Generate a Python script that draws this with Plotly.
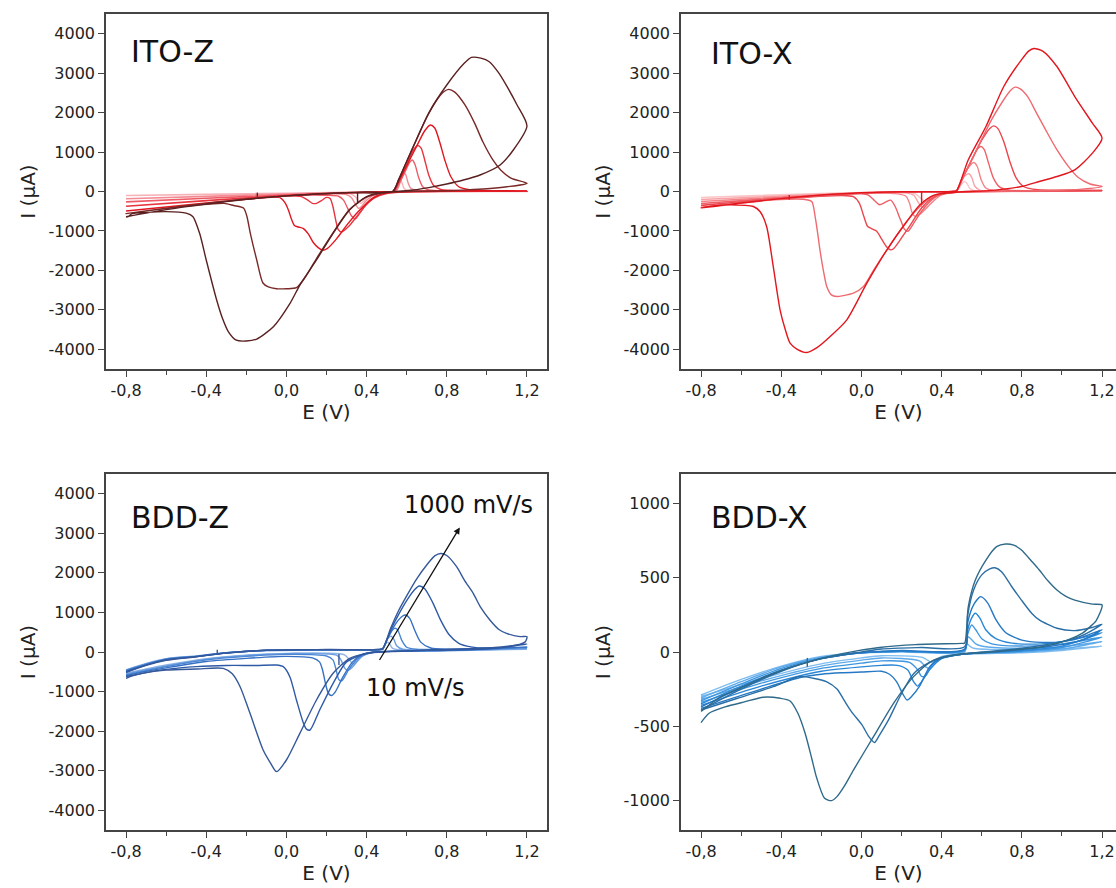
import plotly.graph_objects as go

# ---------------- ITO-Z (E in V, I in uA), slow -> fast scan ----------------
IZ1 = [(-0.8,-100),(-0.4,-70),(0.0,-40),(0.3,-20),(0.5,-5),(0.545,0),(0.555,120),(0.562,250),(0.568,290),(0.575,240),(0.585,100),(0.6,25),(0.7,5),(0.95,2),(1.2,0),
       (0.95,-1),(0.7,-2),(0.55,-8),(0.46,-40),(0.41,-120),(0.385,-250),(0.372,-300),(0.36,-260),(0.345,-140),(0.32,-60),(0.25,-40),(0.0,-45),(-0.4,-75),(-0.8,-105)]
IZ2 = [(-0.8,-180),(-0.4,-120),(0.0,-60),(0.3,-25),(0.5,-8),(0.545,0),(0.56,120),(0.572,320),(0.585,470),(0.595,430),(0.607,220),(0.62,80),(0.65,25),(0.8,10),(1.0,7),(1.2,5),
       (1.0,2),(0.8,0),(0.6,-5),(0.5,-25),(0.44,-80),(0.4,-220),(0.375,-380),(0.36,-430),(0.345,-330),(0.325,-160),(0.3,-80),(0.2,-60),(0.0,-70),(-0.4,-125),(-0.8,-185)]
IZ3 = [(-0.8,-260),(-0.4,-170),(0.0,-85),(0.3,-30),(0.5,-8),(0.54,0),(0.56,180),(0.59,480),(0.615,740),(0.628,798),(0.642,680),(0.66,350),(0.68,120),(0.71,40),(0.8,15),(1.0,12),(1.2,10),
       (1.0,6),(0.8,5),(0.6,-5),(0.5,-40),(0.44,-130),(0.4,-300),(0.37,-520),(0.345,-690),(0.325,-620),(0.305,-420),(0.285,-220),(0.26,-120),(0.2,-95),(0.0,-100),(-0.4,-175),(-0.8,-265)]
IZ4 = [(-0.8,-370),(-0.4,-230),(0.0,-100),(0.3,-35),(0.5,-8),(0.535,0),(0.56,250),(0.6,680),(0.635,1060),(0.655,1165),(0.672,1100),(0.69,800),(0.71,420),(0.735,150),(0.77,50),(0.9,20),(1.05,15),(1.2,10),
       (1.05,7),(0.9,5),(0.6,-5),(0.5,-50),(0.44,-160),(0.4,-330),(0.35,-640),(0.31,-890),(0.275,-1030),(0.258,-960),(0.245,-700),(0.232,-380),(0.218,-180),(0.2,-150),(0.175,-230),(0.15,-300),(0.13,-300),(0.105,-210),(0.075,-130),(0.0,-110),(-0.4,-235),(-0.8,-375)]
IZ5 = [(-0.8,-490),(-0.4,-290),(0.0,-110),(0.3,-35),(0.5,-8),(0.53,0),(0.56,250),(0.6,650),(0.65,1150),(0.69,1540),(0.718,1686),(0.74,1610),(0.765,1250),(0.79,800),(0.82,380),(0.86,120),(0.92,40),(1.05,20),(1.2,15),
       (1.05,12),(0.9,10),(0.65,0),(0.53,-10),(0.44,-140),(0.36,-500),(0.3,-860),(0.25,-1200),(0.205,-1440),(0.18,-1490),(0.16,-1430),(0.135,-1300),(0.11,-1080),(0.085,-940),(0.06,-900),(0.04,-860),(0.025,-700),(0.012,-500),(-0.005,-300),(-0.035,-150),(-0.2,-200),(-0.4,-295),(-0.8,-495)]
IZ6 = [(-0.8,-560),(-0.6,-420),(-0.4,-300),(-0.2,-190),(0.0,-110),(0.3,-30),(0.53,0),(0.56,300),(0.6,760),(0.65,1330),(0.7,1880),(0.75,2320),(0.785,2530),(0.81,2590),(0.84,2520),(0.89,2200),(0.94,1720),(0.98,1260),(1.03,800),(1.07,540),(1.12,340),(1.2,207),
       (1.1,120),(1.0,70),(0.9,40),(0.8,20),(0.65,5),(0.55,-10),(0.48,-40),(0.4,-140),(0.316,-450),(0.233,-1040),(0.15,-1700),(0.09,-2200),(0.05,-2440),(0.0,-2465),(-0.05,-2465),(-0.09,-2420),(-0.117,-2320),(-0.148,-1736),(-0.18,-1060),(-0.197,-634),(-0.213,-422),(-0.263,-355),(-0.31,-300),(-0.45,-345),(-0.6,-430),(-0.8,-560)]
IZ7 = [(-0.8,-640),(-0.6,-460),(-0.4,-320),(-0.2,-200),(0.0,-110),(0.2,-50),(0.4,-10),(0.53,0),(0.56,300),(0.6,760),(0.65,1330),(0.71,1990),(0.8,2700),(0.887,3250),(0.923,3400),(0.97,3380),(1.012,3290),(1.06,3000),(1.101,2657),(1.15,2200),(1.2,1660),
       (1.132,1052),(1.066,672),(0.966,418),(0.883,291),(0.8,190),(0.717,105),(0.634,38),(0.55,0),(0.483,-15),(0.4,-127),(0.316,-465),(0.233,-1060),(0.15,-1736),(0.068,-2365),(0.018,-2834),(-0.065,-3427),(-0.148,-3740),(-0.2,-3790),(-0.25,-3770),(-0.29,-3550),(-0.32,-3200),(-0.348,-2750),(-0.4,-1736),(-0.433,-1060),(-0.467,-634),(-0.5,-550),(-0.6,-511),(-0.7,-530),(-0.77,-560),(-0.79,-640),(-0.8,-650)]
IZ_COLORS = ['#f7b2b8', '#f38b94', '#ee5a66', '#e8343e', '#e0161f', '#7a2828', '#5a2020']

# ---------------- ITO-X ----------------
IX1 = [(-0.8,-150),(-0.4,-80),(0.0,-25),(0.3,-3),(0.46,0),(0.475,5),(0.49,110),(0.505,220),(0.515,250),(0.527,200),(0.54,80),(0.56,20),(0.7,5),(0.95,5),(1.2,5),
       (0.95,2),(0.7,0),(0.5,-5),(0.42,-30),(0.37,-100),(0.335,-210),(0.315,-250),(0.295,-170),(0.27,-60),(0.22,-25),(0.0,-30),(-0.4,-85),(-0.8,-155)]
IX2 = [(-0.8,-200),(-0.4,-110),(0.0,-30),(0.3,-3),(0.46,0),(0.475,10),(0.49,160),(0.515,390),(0.535,450),(0.55,360),(0.565,140),(0.59,35),(0.7,10),(0.95,10),(1.2,10),
       (0.95,5),(0.7,2),(0.5,-8),(0.42,-40),(0.37,-130),(0.33,-310),(0.305,-400),(0.285,-290),(0.262,-100),(0.22,-35),(0.0,-35),(-0.4,-115),(-0.8,-205)]
IX3 = [(-0.8,-250),(-0.4,-140),(0.0,-35),(0.3,-3),(0.46,0),(0.475,15),(0.5,280),(0.53,580),(0.56,735),(0.577,640),(0.597,300),(0.62,90),(0.66,30),(0.8,15),(1.0,15),(1.2,15),
       (1.0,8),(0.8,5),(0.55,-5),(0.45,-30),(0.39,-110),(0.33,-390),(0.29,-580),(0.268,-630),(0.253,-540),(0.24,-300),(0.222,-120),(0.18,-60),(0.0,-45),(-0.4,-145),(-0.8,-255)]
IX4 = [(-0.8,-300),(-0.4,-160),(0.0,-40),(0.3,-3),(0.46,0),(0.475,20),(0.505,340),(0.54,700),(0.575,1050),(0.595,1141),(0.612,1070),(0.635,700),(0.66,320),(0.69,110),(0.74,35),(0.9,20),(1.05,20),(1.2,20),
       (1.05,12),(0.9,8),(0.6,0),(0.47,-15),(0.4,-60),(0.36,-170),(0.3,-500),(0.255,-850),(0.232,-1010),(0.215,-960),(0.2,-780),(0.188,-634),(0.17,-400),(0.146,-220),(0.12,-270),(0.09,-335),(0.065,-230),(0.035,-90),(0.0,-60),(-0.4,-165),(-0.8,-305)]
IX5 = [(-0.8,-350),(-0.4,-180),(0.0,-40),(0.3,-3),(0.46,0),(0.475,20),(0.5,300),(0.55,800),(0.6,1300),(0.64,1600),(0.66,1665),(0.68,1600),(0.71,1260),(0.74,760),(0.77,360),(0.81,120),(0.88,45),(1.05,35),(1.2,30),
       (1.05,20),(0.9,15),(0.6,2),(0.47,-20),(0.4,-60),(0.36,-140),(0.3,-420),(0.24,-880),(0.19,-1250),(0.16,-1450),(0.145,-1480),(0.125,-1400),(0.1,-1200),(0.075,-1000),(0.05,-940),(0.03,-880),(0.01,-600),(-0.01,-300),(-0.04,-130),(-0.1,-100),(-0.4,-185),(-0.8,-355)]
IX6 = [(-0.8,-400),(-0.4,-190),(0.0,-40),(0.3,-3),(0.46,0),(0.475,20),(0.5,300),(0.55,800),(0.6,1330),(0.65,1830),(0.7,2250),(0.74,2540),(0.766,2645),(0.79,2610),(0.83,2400),(0.87,2020),(0.92,1550),(0.97,1100),(1.03,650),(1.08,360),(1.14,190),(1.2,127),
       (1.1,60),(0.9,20),(0.7,5),(0.5,-10),(0.43,-40),(0.36,-110),(0.3,-340),(0.226,-760),(0.127,-1478),(0.06,-2000),(0.01,-2408),(-0.04,-2577),(-0.09,-2640),(-0.123,-2662),(-0.15,-2620),(-0.173,-2408),(-0.19,-2000),(-0.207,-1478),(-0.22,-1000),(-0.231,-634),(-0.248,-254),(-0.29,-195),(-0.44,-211),(-0.62,-296),(-0.8,-400)]
IX7 = [(-0.8,-420),(-0.6,-290),(-0.4,-180),(-0.2,-90),(0.0,-30),(0.2,-5),(0.46,0),(0.475,20),(0.533,803),(0.621,1648),(0.71,2662),(0.798,3338),(0.834,3560),(0.86,3625),(0.904,3560),(0.975,3169),(1.064,2408),(1.152,1732),(1.2,1352),
       (1.152,972),(1.064,549),(0.975,380),(0.887,254),(0.798,127),(0.71,59),(0.621,17),(0.5,-5),(0.425,-40),(0.359,-100),(0.292,-338),(0.226,-760),(0.127,-1478),(0.027,-2324),(-0.073,-3253),(-0.156,-3675),(-0.22,-3950),(-0.273,-4080),(-0.32,-4000),(-0.356,-3845),(-0.38,-3500),(-0.406,-2999),(-0.44,-1900),(-0.473,-887),(-0.506,-507),(-0.539,-380),(-0.656,-338),(-0.75,-370),(-0.8,-420)]
IX_COLORS = ['#fbc4c6', '#f8a3a7', '#f48388', '#ef6068', '#eb454d', '#ef6a70', '#e2161d']

# ---------------- BDD-Z ----------------
BZ1 = [(-0.8,-450),(-0.7,-290),(-0.6,-170),(-0.45,-100),(-0.3,-15),(-0.1,35),(0.2,50),(0.46,55),(0.48,65),(0.495,200),(0.505,250),(0.515,200),(0.53,90),(0.56,55),(0.8,55),(1.2,70),
       (0.8,30),(0.5,15),(0.42,-15),(0.38,-100),(0.345,-280),(0.33,-300),(0.315,-200),(0.29,-70),(0.2,-30),(0.0,-35),(-0.2,-80),(-0.4,-170),(-0.6,-330),(-0.7,-430),(-0.8,-540)]
BZ2 = [(-0.8,-460),(-0.7,-300),(-0.6,-175),(-0.45,-105),(-0.3,-18),(-0.1,38),(0.2,52),(0.46,57),(0.48,70),(0.5,300),(0.515,390),(0.522,400),(0.535,330),(0.55,160),(0.58,70),(0.8,60),(1.2,90),
       (0.8,35),(0.5,15),(0.42,-20),(0.37,-130),(0.33,-380),(0.305,-470),(0.29,-400),(0.27,-180),(0.25,-80),(0.1,-40),(0.0,-40),(-0.2,-90),(-0.4,-185),(-0.6,-350),(-0.7,-450),(-0.8,-560)]
BZ3 = [(-0.8,-470),(-0.7,-310),(-0.6,-180),(-0.45,-110),(-0.3,-20),(-0.1,40),(0.2,55),(0.46,58),(0.48,80),(0.505,350),(0.53,560),(0.542,600),(0.555,560),(0.575,300),(0.6,120),(0.65,70),(0.8,65),(1.2,110),
       (0.8,40),(0.5,15),(0.42,-20),(0.36,-150),(0.31,-450),(0.278,-720),(0.262,-700),(0.248,-450),(0.232,-200),(0.2,-100),(0.0,-60),(-0.2,-110),(-0.4,-200),(-0.6,-370),(-0.7,-470),(-0.8,-580)]
BZ4 = [(-0.8,-480),(-0.7,-320),(-0.6,-190),(-0.45,-115),(-0.3,-22),(-0.1,42),(0.2,57),(0.46,60),(0.48,80),(0.51,400),(0.55,750),(0.58,910),(0.595,935),(0.615,850),(0.64,550),(0.67,250),(0.72,100),(0.8,70),(1.2,130),
       (0.9,55),(0.6,25),(0.45,0),(0.38,-60),(0.33,-250),(0.28,-650),(0.245,-1000),(0.225,-1100),(0.21,-1050),(0.195,-800),(0.18,-450),(0.165,-250),(0.13,-150),(0.0,-110),(-0.2,-160),(-0.4,-240),(-0.6,-400),(-0.7,-490),(-0.8,-600)]
BZ5 = [(-0.8,-500),(-0.7,-330),(-0.6,-200),(-0.45,-118),(-0.3,-25),(-0.1,45),(0.2,60),(0.46,62),(0.48,80),(0.52,550),(0.56,950),(0.6,1300),(0.64,1580),(0.663,1668),(0.69,1600),(0.73,1250),(0.77,800),(0.81,450),(0.86,220),(0.92,130),(1.0,100),(1.2,200),
       (1.0,80),(0.7,40),(0.5,10),(0.4,-30),(0.3,-250),(0.233,-792),(0.166,-1466),(0.118,-1972),(0.1,-1950),(0.085,-1800),(0.05,-1213),(0.017,-624),(-0.016,-371),(-0.05,-330),(-0.15,-340),(-0.3,-340),(-0.45,-370),(-0.6,-440),(-0.7,-520),(-0.8,-620)]
BZ6 = [(-0.8,-520),(-0.7,-340),(-0.6,-210),(-0.45,-120),(-0.3,-28),(-0.1,45),(0.2,62),(0.46,65),(0.48,80),(0.52,600),(0.56,1050),(0.6,1420),(0.65,1850),(0.7,2200),(0.74,2430),(0.77,2490),(0.8,2440),(0.849,2157),(0.89,1800),(0.932,1483),(0.97,1120),(1.015,809),(1.06,570),(1.098,472),(1.165,388),(1.2,390),
       (1.19,250),(1.1,130),(0.9,80),(0.7,50),(0.5,10),(0.4,-34),(0.316,-160),(0.233,-539),(0.15,-1213),(0.067,-2056),(0.0,-2730),(-0.049,-3025),(-0.08,-2800),(-0.116,-2477),(-0.182,-1545),(-0.231,-877),(-0.27,-550),(-0.315,-413),(-0.45,-430),(-0.6,-455),(-0.7,-520),(-0.78,-620),(-0.8,-665)]
BZ_COLORS = ['#8fb4e6', '#6a9de0', '#4a86d4', '#3570c4', '#2d5aa6', '#34589a']

# ---------------- BDD-X ----------------
BX1 = [(-0.8,-290),(-0.6,-185),(-0.4,-95),(-0.2,-30),(0.0,-5),(0.2,0),(0.515,0),(0.522,40),(0.528,55),(0.54,40),(0.56,25),(0.7,15),(1.0,20),(1.2,40),
       (1.0,10),(0.8,-5),(0.5,-15),(0.4,-30),(0.37,-55),(0.35,-70),(0.33,-55),(0.3,-35),(0.1,-25),(0.0,-40),(-0.2,-80),(-0.5,-180),(-0.8,-300)]
BX2 = [(-0.8,-310),(-0.6,-200),(-0.4,-100),(-0.2,-35),(0.0,-5),(0.2,5),(0.515,5),(0.525,70),(0.533,103),(0.545,90),(0.57,55),(0.62,35),(0.8,25),(1.0,35),(1.2,70),
       (1.0,20),(0.8,0),(0.5,-15),(0.4,-35),(0.36,-70),(0.34,-110),(0.32,-100),(0.29,-60),(0.1,-40),(0.0,-55),(-0.2,-95),(-0.5,-195),(-0.8,-320)]
BX3 = [(-0.8,-330),(-0.6,-215),(-0.4,-110),(-0.2,-40),(0.0,-5),(0.2,5),(0.515,10),(0.53,120),(0.55,182),(0.57,150),(0.6,90),(0.65,55),(0.8,40),(1.0,55),(1.2,100),
       (1.0,30),(0.8,5),(0.5,-15),(0.4,-40),(0.35,-90),(0.32,-160),(0.3,-165),(0.28,-120),(0.24,-70),(0.1,-60),(0.0,-75),(-0.2,-110),(-0.5,-210),(-0.8,-340)]
BX4 = [(-0.8,-350),(-0.6,-230),(-0.4,-120),(-0.2,-45),(0.0,-5),(0.2,5),(0.515,15),(0.53,150),(0.55,230),(0.568,261),(0.59,230),(0.62,150),(0.67,90),(0.75,60),(0.9,55),(1.05,80),(1.2,130),
       (1.0,40),(0.8,10),(0.5,-15),(0.4,-45),(0.34,-120),(0.3,-200),(0.28,-230),(0.26,-200),(0.23,-120),(0.18,-90),(0.1,-90),(0.0,-100),(-0.2,-130),(-0.5,-230),(-0.8,-360)]
BX5 = [(-0.8,-370),(-0.6,-240),(-0.4,-125),(-0.2,-45),(0.0,-5),(0.2,10),(0.515,20),(0.53,200),(0.56,320),(0.595,373),(0.63,330),(0.67,220),(0.72,130),(0.8,80),(0.9,65),(1.0,70),(1.1,100),(1.2,150),
       (1.1,80),(0.9,30),(0.7,5),(0.5,-15),(0.4,-40),(0.34,-100),(0.29,-230),(0.25,-300),(0.228,-324),(0.205,-280),(0.175,-200),(0.14,-150),(0.1,-130),(0.0,-135),(-0.1,-140),(-0.2,-150),(-0.3,-170),(-0.5,-250),(-0.8,-380)]
BX6 = [(-0.8,-390),(-0.6,-250),(-0.4,-130),(-0.2,-45),(0.0,0),(0.1,20),(0.3,30),(0.515,35),(0.53,250),(0.56,420),(0.6,520),(0.64,560),(0.666,568),(0.7,540),(0.75,440),(0.798,350),(0.85,260),(0.887,216),(0.975,160),(1.064,144),(1.15,165),(1.2,187),
       (1.1,110),(1.0,70),(0.8,25),(0.6,0),(0.5,-15),(0.4,-40),(0.33,-76),(0.26,-146),(0.2,-280),(0.135,-458),(0.09,-560),(0.065,-610),(0.037,-571),(0.002,-490),(-0.051,-400),(-0.087,-324),(-0.122,-250),(-0.175,-200),(-0.228,-180),(-0.31,-165),(-0.44,-234),(-0.618,-312),(-0.8,-391)]
BX7 = [(-0.8,-400),(-0.7,-300),(-0.6,-240),(-0.45,-150),(-0.26,-65),(-0.09,-9),(0.09,30),(0.27,50),(0.5,58),(0.515,60),(0.533,306),(0.568,485),(0.621,620),(0.674,710),(0.719,728),(0.76,720),(0.798,688),(0.85,610),(0.887,553),(0.93,480),(0.975,418),(1.02,375),(1.064,350),(1.152,323),(1.2,317),
       (1.17,210),(1.14,170),(1.1,125),(1.006,70),(0.9,35),(0.756,13),(0.6,-5),(0.5,-12),(0.36,-54),(0.26,-166),(0.16,-346),(0.06,-571),(-0.04,-796),(-0.087,-908),(-0.122,-975),(-0.149,-1002),(-0.184,-986),(-0.223,-850),(-0.246,-728),(-0.281,-548),(-0.317,-413),(-0.356,-330),(-0.405,-312),(-0.49,-305),(-0.58,-335),(-0.68,-370),(-0.76,-413),(-0.8,-476)]
BX_COLORS = ['#7fbdf0', '#5eaaea', '#3f96e0', '#2a86d6', '#2578c4', '#2a6ea6', '#2f6a8a']

# small switching spikes seen on the traces (E, I_from, I_to)
IZ_SPIKES = [(0.355, -20, -320), (-0.145, -130, -30)]
IX_SPIKES = [(0.30, -10, -330), (-0.36, -200, -90)]
BZ_SPIKES = [(0.262, -50, -330), (-0.345, -60, 60)]
BX_SPIKES = [(-0.27, -100, -40)]

X_TICKS = [-0.8, -0.4, 0.0, 0.4, 0.8, 1.2]
X_TICKTEXT = ['-0,8', '-0,4', '0,0', '0,4', '0,8', '1,2']
X_MINOR = [-0.6, -0.2, 0.2, 0.6, 1.0]
Y_TICKS_BIG = [-4000, -3000, -2000, -1000, 0, 1000, 2000, 3000, 4000]
Y_TICKS_SMALL = [-1000, -500, 0, 500, 1000]

W, H = 1116, 888
FONT = 'DejaVu Sans'
AX = '#444444'
TXT = '#222222'

def fx(px):
    return px / W

def fy(py):
    return 1 - py / H

fig = go.Figure()
panels = [
    ([IZ1, IZ2, IZ3, IZ4, IZ5, IZ6, IZ7], IZ_COLORS, IZ_SPIKES, 'x', 'y'),
    ([IX1, IX2, IX3, IX4, IX5, IX6, IX7], IX_COLORS, IX_SPIKES, 'x2', 'y2'),
    ([BZ1, BZ2, BZ3, BZ4, BZ5, BZ6], BZ_COLORS, BZ_SPIKES, 'x3', 'y3'),
    ([BX1, BX2, BX3, BX4, BX5, BX6, BX7], BX_COLORS, BX_SPIKES, 'x4', 'y4'),
]
for curves, colors, spikes, xa, ya in panels:
    for pts, col in zip(curves, colors):
        fig.add_trace(go.Scatter(
            x=[p[0] for p in pts], y=[p[1] for p in pts], mode='lines',
            line=dict(color=col, width=1.4, shape='spline', smoothing=0.7),
            xaxis=xa, yaxis=ya, hoverinfo='skip', showlegend=False))
    for e, i0, i1 in spikes:
        fig.add_trace(go.Scatter(
            x=[e, e], y=[i0, i1], mode='lines', line=dict(color=colors[-1], width=1.4),
            xaxis=xa, yaxis=ya, hoverinfo='skip', showlegend=False))

def xaxis(domain, rng, anchor):
    return dict(domain=domain, range=rng, anchor=anchor, showline=True, linecolor=AX, linewidth=1.5,
                mirror=True, ticks='outside', ticklen=6, tickwidth=1.2, tickcolor=AX,
                tickmode='array', tickvals=X_TICKS, ticktext=X_TICKTEXT,
                minor=dict(tickmode='array', tickvals=X_MINOR, ticks='outside', ticklen=4, tickwidth=1.2, tickcolor=AX),
                showgrid=False, zeroline=False, tickfont=dict(family=FONT, size=16, color=TXT),
                title=dict(text='E (V)', font=dict(family=FONT, size=20, color=TXT), standoff=6))

def yaxis(domain, rng, anchor, ticks, mirror):
    return dict(domain=domain, range=rng, anchor=anchor, showline=True, linecolor=AX, linewidth=1.5,
                mirror=mirror, ticks='outside', ticklen=6, tickwidth=1.2, tickcolor=AX,
                tickmode='array', tickvals=ticks, ticktext=[str(t) for t in ticks],
                showgrid=False, zeroline=False, tickfont=dict(family=FONT, size=16, color=TXT),
                title=dict(text='I (μA)', font=dict(family=FONT, size=20, color=TXT), standoff=8))

left = [fx(106), fx(547)]
right = [fx(681), 1.0]
top = [fy(369), fy(14)]
bottom = [fy(830), fy(474)]

fig.update_layout(
    width=W, height=H, margin=dict(l=0, r=0, t=0, b=0),
    paper_bgcolor='white', plot_bgcolor='white', showlegend=False,
    xaxis=xaxis(left, [-0.9, 1.3], 'y'),
    xaxis2=xaxis(right, [-0.9, 1.2696], 'y2'),
    xaxis3=xaxis(left, [-0.9, 1.3], 'y3'),
    xaxis4=xaxis(right, [-0.9, 1.2696], 'y4'),
    yaxis=yaxis(top, [-4500, 4500], 'x', Y_TICKS_BIG, True),
    yaxis2=yaxis(top, [-4500, 4500], 'x2', Y_TICKS_BIG, False),
    yaxis3=yaxis(bottom, [-4500, 4500], 'x3', Y_TICKS_BIG, True),
    yaxis4=yaxis(bottom, [-1200, 1200], 'x4', Y_TICKS_SMALL, False),
)

labels = [('ITO-Z', 129, 52), ('ITO-X', 709, 53), ('BDD-Z', 129, 517), ('BDD-X', 709, 517)]
for txt, px, py in labels:
    fig.add_annotation(text=txt, x=fx(px), y=fy(py), xref='paper', yref='paper', xanchor='left', yanchor='middle',
                       showarrow=False, font=dict(family=FONT, size=30, color='#111111'))
fig.add_annotation(text='1000 mV/s', x=fx(402), y=fy(505), xref='paper', yref='paper', xanchor='left', yanchor='middle',
                   showarrow=False, font=dict(family=FONT, size=24, color='#111111'))
fig.add_annotation(text='10 mV/s', x=fx(364), y=fy(688), xref='paper', yref='paper', xanchor='left', yanchor='middle',
                   showarrow=False, font=dict(family=FONT, size=24, color='#111111'))
fig.add_annotation(text='', x=0.865, y=3150, ax=0.46, ay=-240, xref='x3', yref='y3', axref='x3', ayref='y3',
                   showarrow=True, arrowhead=2, arrowsize=1, arrowwidth=1.3, arrowcolor='#111111', standoff=0)

fig.write_html('out.html')
